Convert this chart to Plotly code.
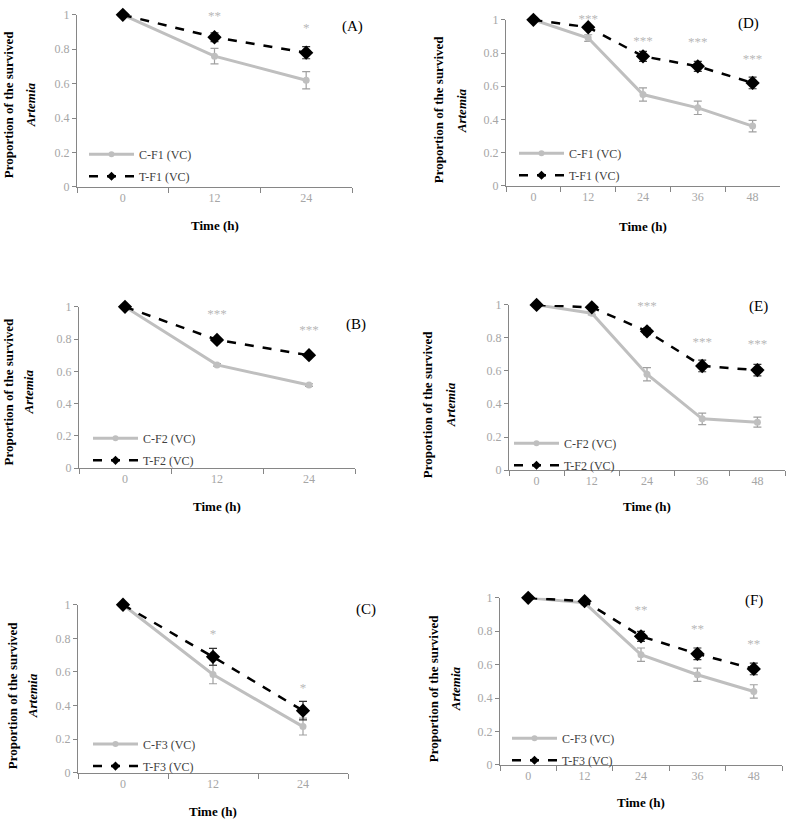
import plotly.graph_objects as go

W, H = 787, 829

# ---------------- data ----------------
times3 = ["0", "12", "24"]
times5 = ["0", "12", "24", "36", "48"]

# Panel A
a_ctrl = [1.0, 0.76, 0.62]
a_ctrl_err = [0.0, 0.045, 0.05]
a_trt = [1.0, 0.87, 0.78]
a_trt_err = [0.0, 0.025, 0.035]
a_sig = ["", "**", "*"]
a_sig_y = [0, 0.99, 0.92]

# Panel B
b_ctrl = [1.0, 0.64, 0.515]
b_ctrl_err = [0.0, 0.008, 0.008]
b_trt = [1.0, 0.795, 0.70]
b_trt_err = [0.0, 0.008, 0.008]
b_sig = ["", "***", "***"]
b_sig_y = [0, 0.95, 0.85]

# Panel C
c_ctrl = [1.0, 0.585, 0.275]
c_ctrl_err = [0.0, 0.055, 0.05]
c_trt = [1.0, 0.69, 0.37]
c_trt_err = [0.0, 0.05, 0.055]
c_sig = ["", "*", "*"]
c_sig_y = [0, 0.82, 0.50]

# Panel D
d_ctrl = [1.0, 0.89, 0.55, 0.47, 0.36]
d_ctrl_err = [0.0, 0.02, 0.04, 0.04, 0.035]
d_trt = [1.0, 0.955, 0.78, 0.72, 0.62]
d_trt_err = [0.0, 0.01, 0.03, 0.03, 0.035]
d_sig = ["", "***", "***", "***", "***"]
d_sig_y = [0, 1.0, 0.87, 0.86, 0.76]

# Panel E
e_ctrl = [1.0, 0.95, 0.58, 0.31, 0.29]
e_ctrl_err = [0.0, 0.01, 0.04, 0.035, 0.03]
e_trt = [1.0, 0.985, 0.84, 0.63, 0.605]
e_trt_err = [0.0, 0.01, 0.02, 0.035, 0.035]
e_sig = ["", "", "***", "***", "***"]
e_sig_y = [0, 0, 0.99, 0.77, 0.76]

# Panel F
f_ctrl = [1.0, 0.97, 0.66, 0.54, 0.44]
f_ctrl_err = [0.0, 0.01, 0.04, 0.04, 0.04]
f_trt = [1.0, 0.98, 0.77, 0.665, 0.575]
f_trt_err = [0.0, 0.01, 0.03, 0.035, 0.035]
f_sig = ["", "", "**", "**", "**"]
f_sig_y = [0, 0, 0.92, 0.81, 0.72]

y_ticks = [0, 0.2, 0.4, 0.6, 0.8, 1]

# ---------------- layout geometry (pixels) ----------------
panels = [
    dict(lab="(A)", t=times3, c=a_ctrl, ce=a_ctrl_err, tr=a_trt, te=a_trt_err, s=a_sig, sy=a_sig_y,
         names=("C-F1 (VC)", "T-F1 (VC)"), x0=77, x1=352, y0=8, y1=183, lp=(352, 20), tt=222,
         yt=(8, 30, 100), lg=(84, 135)),
    dict(lab="(D)", t=times5, c=d_ctrl, ce=d_ctrl_err, tr=d_trt, te=d_trt_err, s=d_sig, sy=d_sig_y,
         names=("C-F1 (VC)", "T-F1 (VC)"), x0=506, x1=780, y0=13, y1=182, lp=(748, 17), tt=223,
         yt=(438, 461, 105), lg=(514, 134)),
    dict(lab="(B)", t=times3, c=b_ctrl, ce=b_ctrl_err, tr=b_trt, te=b_trt_err, s=b_sig, sy=b_sig_y,
         names=("C-F2 (VC)", "T-F2 (VC)"), x0=79, x1=355, y0=305, y1=469, lp=(356, 323), tt=508,
         yt=(8, 28, 392), lg=(88, 424)),
    dict(lab="(E)", t=times5, c=e_ctrl, ce=e_ctrl_err, tr=e_trt, te=e_trt_err, s=e_sig, sy=e_sig_y,
         names=("C-F2 (VC)", "T-F2 (VC)"), x0=509, x1=785, y0=303, y1=471, lp=(758, 305), tt=508,
         yt=(427, 450, 404), lg=(509, 429)),
    dict(lab="(C)", t=times3, c=c_ctrl, ce=c_ctrl_err, tr=c_trt, te=c_trt_err, s=c_sig, sy=c_sig_y,
         names=("C-F3 (VC)", "T-F3 (VC)"), x0=78, x1=348, y0=608, y1=779, lp=(366, 613), tt=818,
         yt=(12, 32, 701), lg=(88, 735)),
    dict(lab="(F)", t=times5, c=f_ctrl, ce=f_ctrl_err, tr=f_trt, te=f_trt_err, s=f_sig, sy=f_sig_y,
         names=("C-F3 (VC)", "T-F3 (VC)"), x0=500, x1=782, y0=601, y1=771, lp=(754, 604), tt=809,
         yt=(433, 455, 694), lg=(507, 729)),
]

SERIF = "Liberation Serif, Times New Roman, serif"
GRAY_LINE = "#bfbfbf"
TICK_GRAY = "#a6a6a6"
AXIS_GRAY = "#868686"


def px(x):
    return x / W


def py(y):
    return 1 - y / H


fig = go.Figure()
annotations = []
layout = dict()

for i, p in enumerate(panels):
    k = "" if i == 0 else str(i + 1)
    xa, ya = "x" + k, "y" + k
    leg = "legend" + k
    fig.add_trace(go.Scatter(
        x=p["t"], y=p["c"], xaxis=xa, yaxis=ya, showlegend=False,
        mode="lines+markers", line=dict(color=GRAY_LINE, width=3),
        marker=dict(symbol="circle", size=7, color=GRAY_LINE),
        error_y=dict(type="data", array=p["ce"], color="#a0a0a0", thickness=1.2, width=4),
        cliponaxis=False))
    fig.add_trace(go.Scatter(
        x=p["t"], y=p["tr"], xaxis=xa, yaxis=ya, showlegend=False,
        mode="lines+markers", line=dict(color="black", width=2.5, dash="dash"),
        marker=dict(symbol="diamond", size=11, color="black"),
        error_y=dict(type="data", array=p["te"], color="#333333", thickness=1.2, width=4),
        cliponaxis=False))
    fig.add_trace(go.Scatter(
        x=[None], y=[None], xaxis=xa, yaxis=ya, name=p["names"][0], legend=leg,
        legendgroup="c" + k, mode="lines+markers", line=dict(color=GRAY_LINE, width=3),
        marker=dict(symbol="circle", size=6, color=GRAY_LINE)))
    fig.add_trace(go.Scatter(
        x=[None], y=[None], xaxis=xa, yaxis=ya, name=p["names"][1], legend=leg,
        legendgroup="t" + k, mode="lines+markers", line=dict(color="black", width=2.5, dash="dash"),
        marker=dict(symbol="diamond", size=7, color="black")))
    fig.add_trace(go.Scatter(
        x=p["t"], y=p["sy"], xaxis=xa, yaxis=ya, mode="text", text=p["s"],
        textfont=dict(family=SERIF, size=13, color="#b8b8b8"), showlegend=False,
        cliponaxis=False, hoverinfo="skip"))

    n = len(p["t"])
    layout["xaxis" + k] = dict(
        domain=[px(p["x0"]), px(p["x1"])], anchor=ya, type="category",
        range=[-0.5, n - 0.5], tickson="boundaries", ticks="outside", ticklen=5,
        tickcolor=AXIS_GRAY, showline=True, linecolor=AXIS_GRAY, linewidth=1,
        showgrid=False, zeroline=False,
        tickfont=dict(family=SERIF, size=12, color=TICK_GRAY))
    layout["yaxis" + k] = dict(
        domain=[py(p["y1"]), py(p["y0"])], anchor=xa, range=[0, 1],
        tickvals=y_ticks, ticks="outside", ticklen=4, tickcolor=AXIS_GRAY,
        showline=True, linecolor=AXIS_GRAY, linewidth=1, showgrid=False, zeroline=False,
        tickfont=dict(family=SERIF, size=12, color=TICK_GRAY))
    layout[leg] = dict(
        x=px(p["lg"][0]), y=py(p["lg"][1]), xanchor="left", yanchor="top",
        bgcolor="rgba(0,0,0,0)", itemwidth=45, tracegroupgap=3,
        font=dict(family=SERIF, size=12, color="#404040"))

    annotations.append(dict(x=px(p["lp"][0]), y=py(p["lp"][1]), xref="paper", yref="paper",
                            text=p["lab"], showarrow=False, xanchor="center", yanchor="middle",
                            font=dict(family=SERIF, size=15, color="black")))
    annotations.append(dict(x=px((p["x0"] + p["x1"]) / 2), y=py(p["tt"]), xref="paper", yref="paper",
                            text="<b>Time (h)</b>", showarrow=False, xanchor="center", yanchor="middle",
                            font=dict(family=SERIF, size=13, color="black")))
    annotations.append(dict(x=px(p["yt"][0]), y=py(p["yt"][2]), xref="paper", yref="paper",
                            text="<b>Proportion of the survived</b>", textangle=-90, showarrow=False,
                            xanchor="center", yanchor="middle",
                            font=dict(family=SERIF, size=13, color="black")))
    annotations.append(dict(x=px(p["yt"][1]), y=py(p["yt"][2]), xref="paper", yref="paper",
                            text="<b><i>Artemia</i></b>", textangle=-90, showarrow=False,
                            xanchor="center", yanchor="middle",
                            font=dict(family=SERIF, size=13, color="black")))

fig.update_layout(
    width=W, height=H, margin=dict(l=0, r=0, t=0, b=0),
    paper_bgcolor="white", plot_bgcolor="white",
    annotations=annotations, **layout)

fig.write_html(
    "out.html",
    config={"displayModeBar": False},
    post_script="document.body.style.margin='0px';document.body.style.overflow='hidden';"
                "document.documentElement.style.overflow='hidden';")
